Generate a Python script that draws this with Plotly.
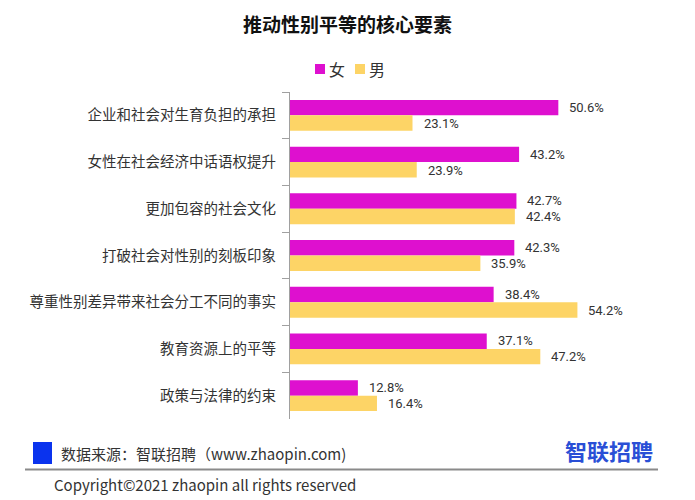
import plotly.graph_objects as go

categories = ["企业和社会对生育负担的承担", "女性在社会经济中话语权提升", "更加包容的社会文化",
              "打破社会对性别的刻板印象", "尊重性别差异带来社会分工不同的事实", "教育资源上的平等",
              "政策与法律的约束"]
female = [50.6, 43.2, 42.7, 42.3, 38.4, 37.1, 12.8]
male = [23.1, 23.9, 42.4, 35.9, 54.2, 47.2, 16.4]
series_names = ["女", "男"]
title_text = "推动性别平等的核心要素"
source_text = "数据来源：智联招聘（www.zhaopin.com)"
copyright_text = "Copyright©2021 zhaopin all rights reserved"
logo_text = "智联招聘"

W, H = 695, 500
ML, MR, MT, MB = 290, 55, 92, 81
PW, PH = W - ML - MR, H - MT - MB
FONT = "Noto Sans CJK SC, Noto Sans, sans-serif"
NUMFONT = "Roboto, Noto Sans, sans-serif"
MAGENTA = "#DE10CF"
YELLOW = "#FDD466"
COLORS = [MAGENTA, YELLOW]


def px(x):
    return (x - ML) / PW


def py(y):
    return (H - MB - y) / PH


fig = go.Figure()
fig.add_trace(go.Bar(y=categories, x=female, name=series_names[0], orientation="h",
                     marker=dict(color=MAGENTA, line=dict(width=0)), showlegend=False))
fig.add_trace(go.Bar(y=categories, x=male, name=series_names[1], orientation="h",
                     marker=dict(color=YELLOW, line=dict(width=0)), showlegend=False))

annotations = []
for vals, shift in ((female, 8), (male, -8)):
    for c, v in zip(categories, vals):
        annotations.append(dict(x=v, y=c, xref="x", yref="y", text=f"{v:.1f}%",
                                showarrow=False, xanchor="left", yanchor="middle",
                                xshift=9, yshift=shift,
                                font=dict(size=13, color="#333333", family=NUMFONT)))

shapes = []
# custom legend: square + label
leg_x = [315, 355]
for name, color, lx in zip(series_names, COLORS, leg_x):
    shapes.append(dict(type="rect", xref="paper", yref="paper", x0=px(lx), x1=px(lx + 10),
                       y0=py(74), y1=py(64), fillcolor=color, line=dict(width=0)))
    annotations.append(dict(x=px(lx + 12), y=py(69), xref="paper", yref="paper", text=name,
                            showarrow=False, xanchor="left", yanchor="middle",
                            font=dict(size=16, color="#333333", family=FONT)))

annotations += [
    dict(x=px(59), y=py(453), xref="paper", yref="paper", text=source_text, showarrow=False,
         xanchor="left", yanchor="middle", font=dict(size=15, color="#333333", family=FONT)),
    dict(x=px(52), y=py(484), xref="paper", yref="paper", text=copyright_text, showarrow=False,
         xanchor="left", yanchor="middle", font=dict(size=15, color="#333333", family=FONT)),
    dict(x=px(655), y=py(450), xref="paper", yref="paper", text="<b>" + logo_text + "</b>",
         showarrow=False, xanchor="right", yanchor="middle",
         font=dict(size=22, color="#2A4FD6", family=FONT)),
]

shapes += [
    dict(type="rect", xref="paper", yref="paper", x0=px(33), x1=px(52), y0=py(464), y1=py(442),
         fillcolor="#0A33EE", line=dict(width=0)),
    dict(type="line", xref="paper", yref="paper", x0=px(25), x1=px(658), y0=py(469.5), y1=py(469.5),
         line=dict(color="#8A8A8A", width=2)),
]

fig.update_layout(
    width=W, height=H,
    margin=dict(l=ML, r=MR, t=MT, b=MB),
    paper_bgcolor="white", plot_bgcolor="white",
    barmode="group", bargap=0.34, bargroupgap=0,
    font=dict(family=FONT, color="#333333"),
    showlegend=False,
    title=dict(text="<b>" + title_text + "</b>", x=0.5, xref="container", xanchor="center",
               y=1 - 25 / H, yref="container", yanchor="middle",
               font=dict(size=19, color="#111111", family=FONT)),
    xaxis=dict(range=[0, 66], visible=False, fixedrange=True),
    yaxis=dict(autorange="reversed", type="category", showline=True, linecolor="#A0A0A0",
               linewidth=1, ticks="outside", tickson="boundaries", ticklen=7,
               tickcolor="#A0A0A0", tickfont=dict(size=14.5, color="#333333", family=FONT),
               showgrid=False, ticklabelstandoff=10),
    annotations=annotations,
    shapes=shapes,
)

fig.write_html("out.html")
